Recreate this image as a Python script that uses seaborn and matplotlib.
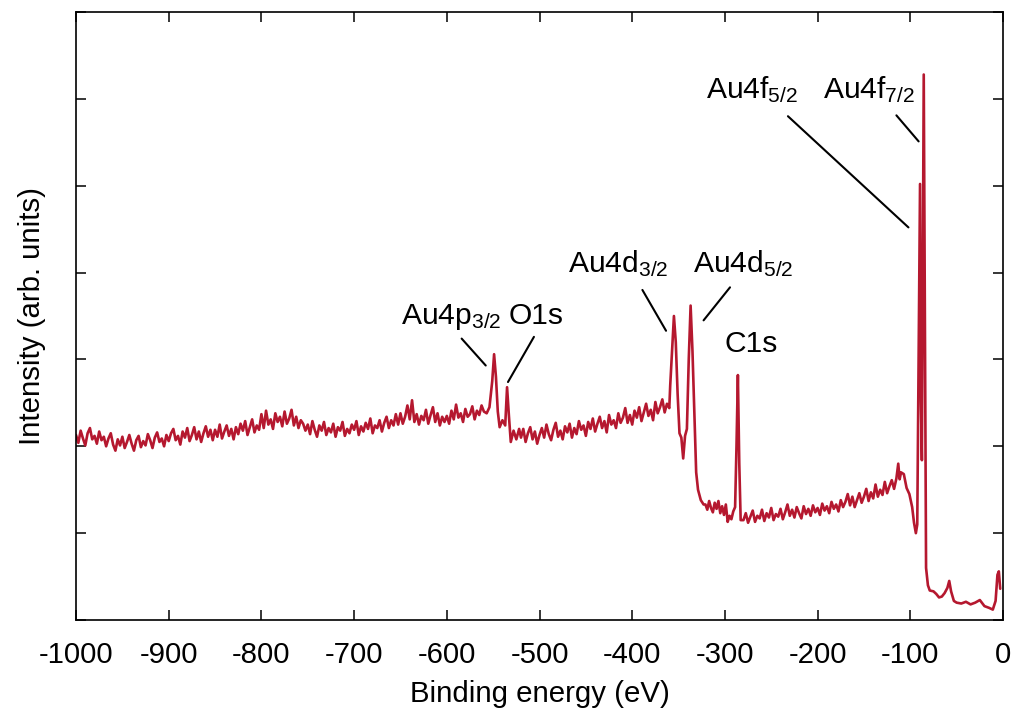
import numpy as np
import pandas as pd
import seaborn as sns
import matplotlib.pyplot as plt

# ---- spectrum values (binding energy in eV, intensity in arb. units) ----
bg_left_x = [-1000 + 2.5 * i for i in range(177)]          # -1000 ... -560
bg_left_y = [2.13, 2.04, 2.18, 2.09, 2.01, 2.15, 2.21, 2.08, 2.12, 2.03,
             2.17, 2.07, 2.11, 2.00, 2.09, 2.15, 2.02, 1.95, 2.08, 2.01,
             2.11, 1.98, 2.05, 2.13, 2.03, 1.95, 2.07, 2.12, 1.99, 2.06,
             2.01, 2.14, 2.07, 1.98, 2.10, 2.16, 2.05, 2.09, 2.00, 2.13,
             2.06, 2.15, 2.20, 2.07, 2.12, 2.02, 2.17, 2.10, 2.21, 2.06,
             2.13, 2.22, 2.08, 2.17, 2.05, 2.15, 2.23, 2.11, 2.19, 2.07,
             2.19, 2.11, 2.25, 2.09, 2.17, 2.24, 2.12, 2.20, 2.08, 2.22,
             2.14, 2.26, 2.18, 2.29, 2.13, 2.22, 2.31, 2.16, 2.24, 2.19,
             2.37, 2.21, 2.41, 2.25, 2.31, 2.20, 2.38, 2.28, 2.34, 2.23,
             2.40, 2.26, 2.32, 2.42, 2.24, 2.34, 2.21, 2.30, 2.26, 2.18,
             2.25, 2.14, 2.29, 2.19, 2.11, 2.24, 2.18, 2.28, 2.13, 2.21,
             2.16, 2.26, 2.11, 2.22, 2.18, 2.28, 2.12, 2.20, 2.15, 2.25,
             2.19, 2.29, 2.13, 2.23, 2.17, 2.27, 2.20, 2.32, 2.15, 2.24,
             2.21, 2.30, 2.17, 2.27, 2.34, 2.21, 2.30, 2.24, 2.37, 2.25,
             2.38, 2.26, 2.34, 2.47, 2.31, 2.53, 2.28, 2.37, 2.25, 2.35,
             2.30, 2.42, 2.26, 2.36, 2.45, 2.28, 2.38, 2.24, 2.34, 2.28,
             2.35, 2.26, 2.41, 2.31, 2.48, 2.33, 2.38, 2.28, 2.43, 2.34,
             2.37, 2.46, 2.31, 2.41, 2.36, 2.47, 2.40]

au4p_o1s_x = [-557, -554, -551, -549, -547, -545, -543, -540, -537, -535, -533, -531, -528, -525, -522]
au4p_o1s_y = [2.38, 2.45, 2.75, 3.06, 2.80, 2.40, 2.22, 2.30, 2.24, 2.68, 2.35, 2.05, 2.18, 2.08, 2.20]

bg_mid_x = [-520 + 2.5 * i for i in range(65)]            # -520 ... -360
bg_mid_y = [2.10, 2.20, 2.05, 2.15, 2.22, 2.08, 2.17, 2.03, 2.13, 2.21,
            2.10, 2.25, 2.14, 2.07, 2.19, 2.27, 2.11, 2.18, 2.08, 2.23,
            2.16, 2.26, 2.10, 2.21, 2.14, 2.29, 2.19, 2.24, 2.12, 2.28,
            2.20, 2.32, 2.17, 2.26, 2.34, 2.21, 2.29, 2.16, 2.36, 2.25,
            2.30, 2.21, 2.38, 2.27, 2.33, 2.44, 2.27, 2.36, 2.25, 2.41,
            2.33, 2.45, 2.29, 2.39, 2.49, 2.35, 2.42, 2.30, 2.51, 2.38,
            2.45, 2.54, 2.39, 2.49, 2.44]

au4d_x = [-359, -357, -355, -353, -351, -349, -347, -345, -343, -341, -339, -337, -335, -333, -331, -329, -326, -323]
au4d_y = [2.70, 3.10, 3.50, 3.20, 2.60, 2.15, 2.10, 1.86, 2.12, 2.20, 3.00, 3.62, 3.10, 2.40, 1.70, 1.50, 1.38, 1.33]

bg_c1s_x = [-321, -319, -317, -315, -313, -311, -309, -307, -305, -303, -301, -299, -297, -295, -293, -291, -289,
            -287.5, -286, -284.5, -283]
bg_c1s_y = [1.33, 1.27, 1.37, 1.29, 1.24, 1.35, 1.28, 1.37, 1.23, 1.31, 1.21, 1.33, 1.13, 1.20, 1.16, 1.25, 1.30,
            2.00, 2.82, 1.80, 1.15]

bg_right_x = [-280 + 2.5 * i for i in range(67)]          # -280 ... -115
bg_right_y = [1.15, 1.23, 1.12, 1.19, 1.26, 1.13, 1.20, 1.17, 1.27, 1.14,
              1.23, 1.18, 1.29, 1.15, 1.22, 1.19, 1.28, 1.16, 1.24, 1.33,
              1.20, 1.27, 1.18, 1.30, 1.23, 1.17, 1.31, 1.22, 1.28, 1.20,
              1.32, 1.24, 1.29, 1.21, 1.34, 1.26, 1.31, 1.23, 1.36, 1.28,
              1.33, 1.25, 1.38, 1.30, 1.36, 1.45, 1.32, 1.42, 1.30, 1.38,
              1.46, 1.35, 1.42, 1.51, 1.37, 1.47, 1.40, 1.56, 1.42, 1.50,
              1.44, 1.59, 1.46, 1.54, 1.61, 1.51, 1.63]

pre_au4f_x = [-113, -111.5, -110, -107, -104, -101, -98, -96, -94, -92.5]
pre_au4f_y = [1.80, 1.62, 1.70, 1.68, 1.52, 1.45, 1.30, 1.12, 1.00, 1.10]

au4f_x = [-91, -89.5, -88.5, -87.5, -86.5, -85.5, -84.5, -83.5, -83, -81, -79]
au4f_y = [3.00, 5.02, 2.50, 1.84, 4.00, 6.28, 4.00, 1.50, 0.60, 0.40, 0.34]

tail_x = [-75, -72, -69, -66, -63, -60, -58, -56, -53, -50, -45, -40, -35, -30, -25, -20, -15, -11, -8, -6, -4.5, -3]
tail_y = [0.33, 0.30, 0.26, 0.27, 0.31, 0.37, 0.45, 0.33, 0.22, 0.20, 0.19, 0.21, 0.18, 0.20, 0.23, 0.16, 0.14, 0.12, 0.22, 0.52, 0.56, 0.36]

# peak labels: text, text anchor (left, baseline), leader line start and end
peak_labels = [r"Au4p$_{3/2}$", "O1s", r"Au4d$_{3/2}$", r"Au4d$_{5/2}$", "C1s", r"Au4f$_{5/2}$", r"Au4f$_{7/2}$"]
label_x = [-649, -533, -469, -334, -300, -320, -194]
label_y = [3.41, 3.41, 4.00, 4.00, 3.08, 6.01, 6.01]
leader_start = [(-584, 3.24), (-506, 3.26), (-389, 3.80), (-294.5, 3.83), None, (-232, 5.80), (-115, 5.81)]
leader_end = [(-558, 2.93), (-534, 2.74), (-363.5, 3.33), (-323, 3.45), None, (-102, 4.52), (-91, 5.51)]

x_ticks = list(range(-1000, 1, 100))

energy = bg_left_x + au4p_o1s_x + bg_mid_x + au4d_x + bg_c1s_x + bg_right_x + pre_au4f_x + au4f_x + tail_x
intensity = bg_left_y + au4p_o1s_y + bg_mid_y + au4d_y + bg_c1s_y + bg_right_y + pre_au4f_y + au4f_y + tail_y
df = pd.DataFrame({"energy": energy, "intensity": intensity})

sns.set_theme(style="ticks")
plt.rcParams["font.family"] = ["Liberation Sans", "DejaVu Sans"]
plt.rcParams["mathtext.default"] = "regular"

fig = plt.figure(figsize=(10.19, 7.13), dpi=100)
ax = fig.add_axes([0.0746, 0.1304, 0.9097, 0.8528])

sns.lineplot(data=df, x="energy", y="intensity", color="#b5182f", linewidth=1.9,
             sort=False, estimator=None, ax=ax)

for txt, lx, ly, s, e in zip(peak_labels, label_x, label_y, leader_start, leader_end):
    ax.text(lx, ly, txt, fontsize=21.6, ha="left", va="baseline", color="black")
    if s is not None:
        ax.plot([s[0], e[0]], [s[1], e[1]], color="black", linewidth=1.5)

ax.set_xlim(-1000, 0)
ax.set_ylim(0, 7)
ax.set_xticks(x_ticks)
ax.set_xticklabels([str(t) for t in x_ticks])
ax.set_yticks(range(0, 8))
ax.set_yticklabels([])
ax.tick_params(direction="in", length=7, width=1.1, top=True, right=True,
               labelsize=21.2, pad=15, colors="black")
for sp in ax.spines.values():
    sp.set_linewidth(1.2)
    sp.set_color("black")

ax.set_xlabel("Binding energy (eV)", fontsize=21.2, labelpad=8, color="black")
ax.set_ylabel("Intensity (arb. units)", fontsize=21.2, labelpad=6.5, color="black")

fig.savefig("out.png", dpi=100)
